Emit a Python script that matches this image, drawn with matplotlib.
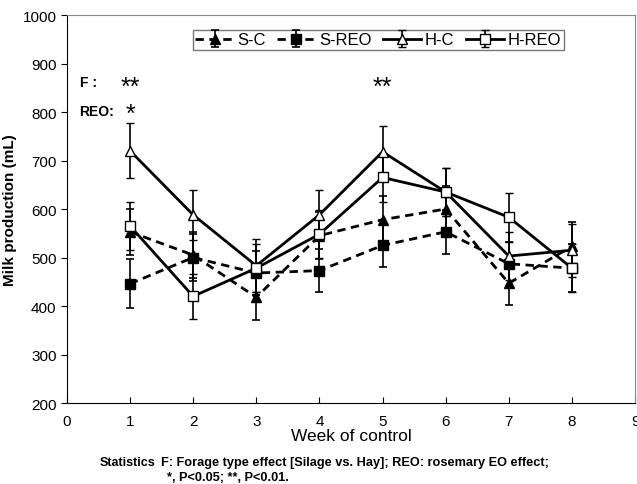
import matplotlib
matplotlib.use("Agg")
import matplotlib.pyplot as plt

plt.rcParams['font.family'] = ['Liberation Sans', 'DejaVu Sans']

weeks = [1, 2, 3, 4, 5, 6, 7, 8]
s_c = [553, 505, 418, 545, 578, 600, 447, 523]
s_c_err = [48, 48, 46, 48, 48, 48, 45, 50]
s_reo = [446, 500, 468, 473, 525, 553, 487, 478]
s_reo_err = [51, 48, 46, 45, 45, 45, 46, 50]
h_c = [720, 588, 483, 588, 718, 635, 503, 515]
h_c_err = [57, 52, 55, 52, 54, 50, 50, 55]
h_reo = [565, 420, 478, 548, 665, 635, 583, 478]
h_reo_err = [50, 47, 50, 50, 50, 50, 50, 50]

fig = plt.figure(figsize=(6.37, 4.85), dpi=100)
ax = fig.add_axes([0.105, 0.167, 0.892, 0.800])

kw = dict(color='black', capsize=3, elinewidth=1.2, capthick=1.2, lw=2, markersize=7.5)
ax.errorbar(weeks, s_c, yerr=s_c_err, ls=(0, (3, 2)), marker='^', mfc='black', mec='black', label='S-C', **kw)
ax.errorbar(weeks, s_reo, yerr=s_reo_err, ls=(0, (3, 2)), marker='s', mfc='black', mec='black', label='S-REO', **kw)
ax.errorbar(weeks, h_c, yerr=h_c_err, ls='-', marker='^', mfc='white', mec='black', mew=1, label='H-C', **kw)
ax.errorbar(weeks, h_reo, yerr=h_reo_err, ls='-', marker='s', mfc='white', mec='black', mew=1, label='H-REO', **kw)

ax.set_xlim(0, 9)
ax.set_ylim(200, 1000)
ax.set_xticks(range(0, 10))
ax.set_yticks(range(200, 1001, 100))
ax.tick_params(axis='x', direction='in', labelsize=11, length=4, pad=8)
ax.tick_params(axis='y', direction='out', labelsize=11, length=4)
for s in ['top', 'right']:
    ax.spines[s].set_color('#888888')
ax.set_xlabel('Week of control', fontsize=12.5, labelpad=0)
ax.set_ylabel('Milk production (mL)', fontsize=11, fontweight='bold')

leg = ax.legend(loc='upper center', ncol=4, bbox_to_anchor=(0.548, 0.97), fontsize=12,
                frameon=True, fancybox=False, handlelength=2.3, handletextpad=0.2,
                columnspacing=0.7, borderpad=0.15, borderaxespad=0.2)
leg.get_frame().set_edgecolor('#555555')
leg.get_frame().set_linewidth(1)

ax.text(0.2, 862, 'F :', fontsize=10, fontweight='bold', va='center')
ax.text(0.2, 802, 'REO:', fontsize=10, fontweight='bold', va='center')
ax.text(1, 852, '**', fontsize=18, ha='center', va='center')
ax.text(1, 796, '*', fontsize=18, ha='center', va='center')
ax.text(5, 852, '**', fontsize=18, ha='center', va='center')

fig.text(0.157, 0.040, 'Statistics', fontsize=9, fontweight='bold')
fig.text(0.252, 0.040, 'F: Forage type effect [Silage vs. Hay]; REO: rosemary EO effect;',
         fontsize=9.2, fontweight='bold')
fig.text(0.262, 0.008, '*, P<0.05; **, P<0.01.', fontsize=9.2, fontweight='bold')

fig.savefig('out.png', dpi=100)
